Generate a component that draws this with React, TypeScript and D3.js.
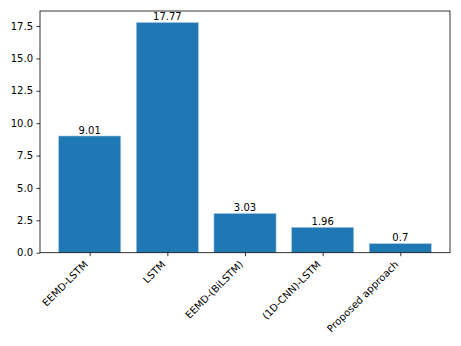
import React, { useEffect, useRef } from 'react';
import * as d3 from 'd3';

const categories = ['EEMD-LSTM', 'LSTM', 'EEMD-(BiLSTM)', '(1D-CNN)-LSTM', 'Proposed approach'];
const values = [9.01, 17.77, 3.03, 1.96, 0.7];
const valueLabels = ['9.01', '17.77', '3.03', '1.96', '0.7'];
const yTicks = [0, 2.5, 5, 7.5, 10, 12.5, 15, 17.5];

const App = () => {
  const svgRef = useRef<SVGSVGElement>(null);

  useEffect(() => {
    const width = 461;
    const height = 346;
    const marginTop = 11;
    const marginRight = 11;
    const marginBottom = 93.3;
    const marginLeft = 40;
    const font = 'DejaVu Sans, sans-serif';

    const svg = d3.select(svgRef.current);
    svg.selectAll('*').remove();

    // matplotlib style: bars of width 0.8 at integer positions, 5% margins
    const n = categories.length;
    const xMin = -0.4 - 0.05 * (n - 1 + 0.8);
    const xMax = n - 1 + 0.4 + 0.05 * (n - 1 + 0.8);
    const x = d3.scaleLinear()
      .domain([xMin, xMax])
      .range([marginLeft, width - marginRight]);

    const yMax = d3.max(values)! * 1.05;
    const y = d3.scaleLinear()
      .domain([0, yMax])
      .range([height - marginBottom, marginTop]);

    // Bars
    svg.append('g')
      .selectAll('rect')
      .data(values)
      .join('rect')
      .attr('x', (_, i) => x(i - 0.4))
      .attr('width', x(0.8) - x(0))
      .attr('y', d => y(d))
      .attr('height', d => y(0) - y(d))
      .attr('fill', '#1f77b4')
      .attr('stroke', '#a9cbe6')
      .attr('stroke-width', 0.6);

    // Value labels
    svg.append('g')
      .selectAll('text')
      .data(values)
      .join('text')
      .attr('x', (_, i) => x(i))
      .attr('y', d => y(d) - 2.4)
      .attr('text-anchor', 'middle')
      .attr('font-family', font)
      .attr('font-size', 10)
      .attr('fill', 'black')
      .text((_, i) => valueLabels[i]);

    // Y axis
    const yAxis = svg.append('g')
      .attr('transform', `translate(${marginLeft}, 0)`)
      .call(d3.axisLeft(y).tickValues(yTicks).tickFormat(d3.format('.1f')).tickSize(3.5).tickPadding(3.5).tickSizeOuter(0));
    yAxis.select('.domain').remove();
    yAxis.selectAll('.tick line').attr('stroke-width', 0.8);
    yAxis.selectAll('.tick text')
      .attr('font-family', font)
      .attr('font-size', 10)
      .attr('fill', 'black');

    // X axis
    const xAxis = svg.append('g')
      .attr('transform', `translate(0, ${height - marginBottom})`)
      .call(d3.axisBottom(x).tickValues(d3.range(n)).tickFormat((_, i) => categories[i]).tickSize(3.5).tickSizeOuter(0));
    xAxis.select('.domain').remove();
    xAxis.selectAll('.tick line').attr('stroke-width', 0.8);
    xAxis.selectAll('.tick text')
      .attr('font-family', font)
      .attr('font-size', 10)
      .attr('fill', 'black')
      .attr('text-anchor', 'end')
      .attr('dy', null)
      .attr('y', null)
      .attr('transform', 'translate(-1.7, 12.4) rotate(-45)');

    // Frame
    svg.append('rect')
      .attr('x', marginLeft)
      .attr('y', marginTop)
      .attr('width', width - marginLeft - marginRight)
      .attr('height', height - marginTop - marginBottom)
      .attr('fill', 'none')
      .attr('stroke', 'black')
      .attr('stroke-width', 0.8);
  }, []);

  return (
    <div style={{ position: 'absolute', left: 0, top: 0 }}>
      <svg ref={svgRef} width={461} height={346} style={{ display: 'block', background: 'white' }}></svg>
    </div>
  );
};

export default App;
